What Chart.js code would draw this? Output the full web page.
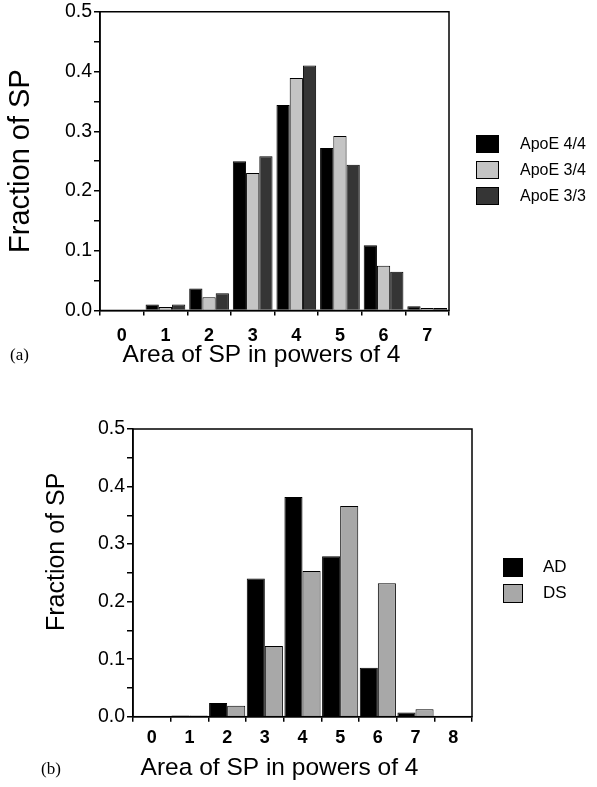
<!DOCTYPE html>
<html>
<head>
<meta charset="utf-8">
<script src="https://cdn.jsdelivr.net/npm/chart.js@4.4.0/dist/chart.umd.min.js"></script>
<style>
  body { margin: 0; background: #fff; width: 597px; height: 787px; position: relative; overflow: hidden;
         font-family: "Liberation Sans", Arial, Helvetica, sans-serif; color: #000; }
  canvas { position: absolute; left: 0; }
  #chartA { top: 0; }
  #chartB { top: 400px; }
  .panel { position: absolute; font-family: "Liberation Serif", "Times New Roman", serif; font-size: 17px; }
  .legend { position: absolute; }
  .legend .item { height: 26px; display: flex; align-items: center; }
  .legend .box { border: 1px solid #000; box-sizing: border-box; }
</style>
</head>
<body>
<canvas id="chartA" width="597" height="380"></canvas>
<canvas id="chartB" width="597" height="387"></canvas>
<div class="panel" style="left:10px; top:345px;">(a)</div>
<div class="panel" style="left:41px; top:759px;">(b)</div>
<div class="legend" id="legendA" style="left:476px; top:131px; font-size:16px;"></div>
<div class="legend" id="legendB" style="left:503px; top:554px; font-size:17px;"></div>

<script>
// panel (a): SP size distribution by ApoE genotype
const binsA = ["0", "1", "2", "3", "4", "5", "6", "7"];
const apoe44 = [0, 0.010, 0.037, 0.250, 0.344, 0.272, 0.109, 0.007];
const apoe34 = [0, 0.006, 0.022, 0.230, 0.389, 0.292, 0.075, 0.004];
const apoe33 = [0, 0.010, 0.029, 0.258, 0.410, 0.244, 0.065, 0.004];

// panel (b): AD vs DS
const binsB = ["0", "1", "2", "3", "4", "5", "6", "7", "8"];
const adVals = [0, 0.002, 0.024, 0.240, 0.382, 0.279, 0.085, 0.0075, 0];
const dsVals = [0, 0.002, 0.019, 0.123, 0.253, 0.366, 0.232, 0.013, 0];

const FONT = '"Liberation Sans", Arial, Helvetica, sans-serif';

// box around the plot area
const framePlugin = {
  id: "frame",
  afterDraw(chart) {
    const { ctx, chartArea: a } = chart;
    ctx.save();
    ctx.strokeStyle = "#000";
    ctx.lineWidth = 1.5;
    ctx.strokeRect(a.left, a.top, a.right - a.left, a.bottom - a.top);
    ctx.restore();
  }
};

// axis titles, placed a bit off-centre like the original figure
const captionPlugin = {
  id: "caption",
  afterDraw(chart, args, o) {
    const { ctx, chartArea: a } = chart;
    ctx.save();
    ctx.fillStyle = "#000";
    ctx.textAlign = "center";
    ctx.textBaseline = "middle";
    ctx.font = o.xSize + "px " + FONT;
    ctx.fillText("Area of SP in powers of 4", (a.left + a.right) / 2 + o.xDx, o.xY);
    ctx.translate(o.yX, (a.top + a.bottom) / 2 + o.yDy);
    ctx.rotate(-Math.PI / 2);
    ctx.font = o.ySize + "px " + FONT;
    ctx.fillText("Fraction of SP", 0, 0);
    ctx.restore();
  }
};

function yAxis(width) {
  return {
    min: 0,
    max: 0.5,
    afterFit: scale => { scale.width = width; },
    ticks: {
      stepSize: 0.05,
      color: "#000",
      padding: 2,
      font: { family: FONT, size: 19.5, lineHeight: 1 },
      callback: v => (Math.round(v * 100) % 10 === 0 ? v.toFixed(1) : "")
    },
    grid: { drawOnChartArea: false, tickLength: 6, color: "#000", lineWidth: 1.5 },
    border: { color: "#000", width: 1.5 }
  };
}

function xAxis(tickPad, tickSize) {
  return {
    ticks: {
      color: "#000",
      padding: tickPad,
      maxRotation: 0,
      font: { family: FONT, size: tickSize, weight: "bold", lineHeight: 1 }
    },
    grid: { offset: true, drawOnChartArea: false, tickLength: 5, color: "#000", lineWidth: 1.5 },
    border: { color: "#000", width: 1.5 }
  };
}

const setA = [
  { label: "ApoE 4/4", data: apoe44, backgroundColor: "#000000" },
  { label: "ApoE 3/4", data: apoe34, backgroundColor: "#c4c4c4" },
  { label: "ApoE 3/3", data: apoe33, backgroundColor: "#353535" }
];
const setB = [
  { label: "AD", data: adVals, backgroundColor: "#000000" },
  { label: "DS", data: dsVals, backgroundColor: "#a8a8a8" }
];

new Chart(document.getElementById("chartA"), {
  type: "bar",
  data: {
    labels: binsA,
    datasets: setA.map(d => Object.assign({}, d, {
      borderColor: "#000", borderWidth: 1, categoryPercentage: 0.91, barPercentage: 1.0
    }))
  },
  options: {
    responsive: false,
    animation: false,
    devicePixelRatio: 1,
    layout: { padding: { top: 10, right: 148, bottom: 23.5, left: 0 } },
    plugins: {
      legend: { display: false },
      tooltip: { enabled: false },
      caption: { xSize: 24.5, xDx: -13, xY: 355, ySize: 29, yX: 20.5, yDy: 0 }
    },
    scales: { x: xAxis(11.5, 18), y: yAxis(100) }
  },
  plugins: [framePlugin, captionPlugin]
});

new Chart(document.getElementById("chartB"), {
  type: "bar",
  data: {
    labels: binsB,
    datasets: setB.map(d => Object.assign({}, d, {
      borderColor: "#000", borderWidth: 1, categoryPercentage: 0.96, barPercentage: 1.0
    }))
  },
  options: {
    responsive: false,
    animation: false,
    devicePixelRatio: 1,
    layout: { padding: { top: 29, right: 125, bottom: 33.3, left: 0 } },
    plugins: {
      legend: { display: false },
      tooltip: { enabled: false },
      caption: { xSize: 24.5, xDx: -23, xY: 368, ySize: 25, yX: 57, yDy: -21 }
    },
    scales: { x: xAxis(7, 18), y: yAxis(133) }
  },
  plugins: [framePlugin, captionPlugin]
});

// legends as plain text next to the plots
function buildLegend(id, sets, boxW, boxH, gap) {
  const el = document.getElementById(id);
  sets.forEach(d => {
    const item = document.createElement("div");
    item.className = "item";
    const box = document.createElement("span");
    box.className = "box";
    box.style.width = boxW + "px";
    box.style.height = boxH + "px";
    box.style.marginRight = gap + "px";
    box.style.background = d.backgroundColor;
    const txt = document.createElement("span");
    txt.textContent = d.label;
    item.appendChild(box);
    item.appendChild(txt);
    el.appendChild(item);
  });
}
buildLegend("legendA", setA, 23, 18, 21);
buildLegend("legendB", setB, 20, 19, 20);
</script>
</body>
</html>
